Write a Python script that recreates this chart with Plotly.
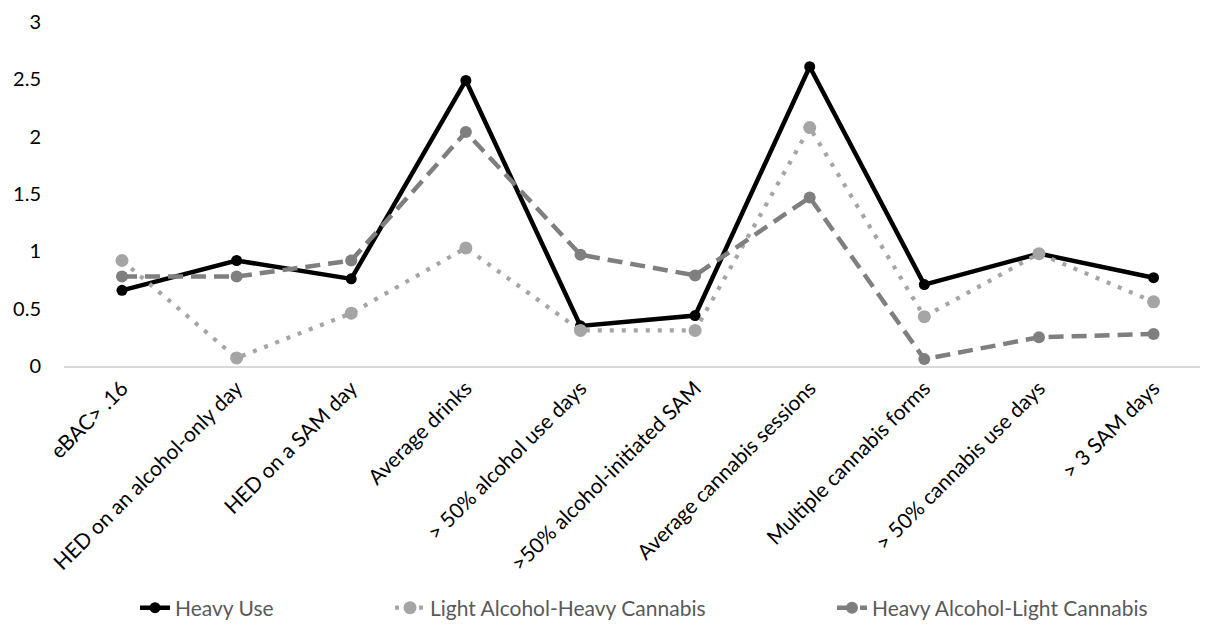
import plotly.graph_objects as go

categories = [
    "eBAC> .16",
    "HED on an alcohol-only day",
    "HED on a SAM day",
    "Average drinks",
    "> 50% alcohol use days",
    ">50% alcohol-initiated SAM",
    "Average cannabis sessions",
    "Multiple cannabis forms",
    "> 50% cannabis use days",
    "> 3 SAM days",
]
heavy_use = [0.66, 0.92, 0.76, 2.49, 0.35, 0.44, 2.61, 0.71, 0.98, 0.77]
light_alc_heavy_can = [0.92, 0.07, 0.46, 1.03, 0.31, 0.31, 2.08, 0.43, 0.98, 0.56]
heavy_alc_light_can = [0.78, 0.78, 0.92, 2.04, 0.97, 0.79, 1.47, 0.06, 0.25, 0.28]
series_names = ["Heavy Use", "Light Alcohol-Heavy Cannabis", "Heavy Alcohol-Light Cannabis"]
y_ticks = [0, 0.5, 1, 1.5, 2, 2.5, 3]

FONT = "Lato"
# page body has an 8px margin; figure is sized so it fits the 1208x624 window
W, H = 1200, 616
L, T, B = 56, 14, 258
PW, PH = W - L, H - T - B

fig = go.Figure()
fig.add_trace(go.Scatter(
    x=categories, y=heavy_use, name=series_names[0], mode="lines+markers",
    line=dict(color="#000000", width=4.5),
    marker=dict(color="#000000", size=11),
    cliponaxis=False, legend="legend", showlegend=True))
fig.add_trace(go.Scatter(
    x=categories, y=light_alc_heavy_can, name=series_names[1], mode="lines+markers",
    line=dict(color="#A5A5A5", width=4.2, dash="4px,8px"),
    marker=dict(color="#A5A5A5", size=13),
    cliponaxis=False, legend="legend2", showlegend=True))
fig.add_trace(go.Scatter(
    x=categories, y=heavy_alc_light_can, name=series_names[2], mode="lines+markers",
    line=dict(color="#7F7F7F", width=4.5, dash="15px,8px"),
    marker=dict(color="#7F7F7F", size=12),
    cliponaxis=False, legend="legend3", showlegend=True))

plot_bottom = H - B
leg_y = (plot_bottom - 600) / PH
leg_common = dict(yanchor="middle", y=leg_y, xanchor="left",
                  font=dict(family=FONT, size=21, color="#595959"),
                  bgcolor="rgba(0,0,0,0)", visible=True)
fig.update_layout(
    width=W, height=H, showlegend=True,
    margin=dict(l=L, r=0, t=T, b=B, autoexpand=False),
    paper_bgcolor="white", plot_bgcolor="white",
    font=dict(family=FONT, size=21, color="#000000"),
    xaxis=dict(type="category", range=[-0.506, 9.475], tickangle=-45,
               showline=True, linecolor="#D9D9D9", linewidth=1.5,
               showgrid=False, ticks="", automargin=False,
               tickfont=dict(family=FONT, size=21, color="#000000")),
    yaxis=dict(range=[0, 3], tickvals=y_ticks, ticktext=[str(v) for v in y_ticks],
               showgrid=False, zeroline=False, showline=False, ticks="", automargin=False,
               ticklabelstandoff=22,
               tickfont=dict(family=FONT, size=20, color="#000000")),
    legend=dict(x=(127 - L) / PW, **leg_common),
    legend2=dict(x=(382 - L) / PW, **leg_common),
    legend3=dict(x=(824 - L) / PW, **leg_common),
)
fig.write_html("out.html")
